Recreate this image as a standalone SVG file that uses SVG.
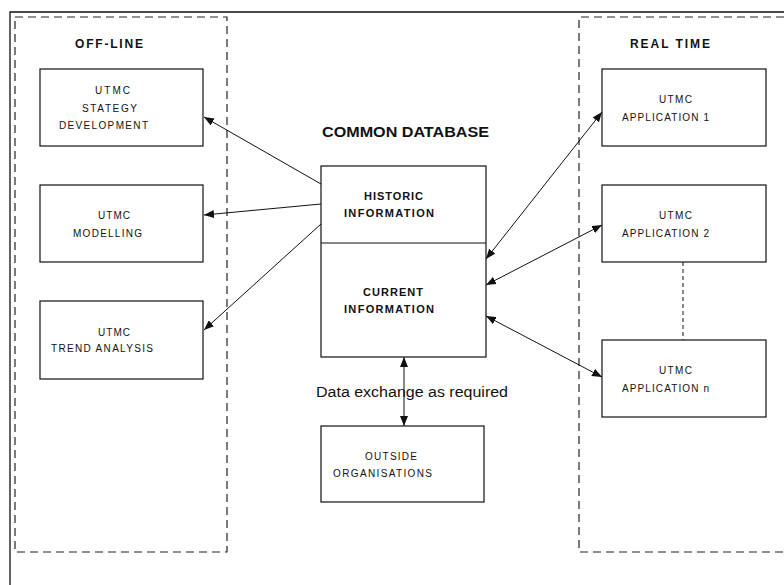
<svg xmlns="http://www.w3.org/2000/svg" width="784" height="585" viewBox="0 0 784 585">
  <style>
    .box { fill: #fff; stroke: #111; stroke-width: 1.2; }
    .zone { fill: none; stroke: #222; stroke-width: 1.2; stroke-dasharray: 8 5; }
    .frame { fill: none; stroke: #111; stroke-width: 1.3; }
    .link { fill: none; stroke: #111; stroke-width: 1; }
    .lbl { font-family: "Liberation Sans Narrow", "Liberation Sans", Arial, sans-serif; font-size: 10px; fill: #111; }
    .hdr { font-family: "Liberation Sans Narrow", "Liberation Sans", Arial, sans-serif; font-size: 12px; font-weight: bold; fill: #111; }
    .db { font-family: "Liberation Sans", Arial, sans-serif; font-size: 14px; font-weight: bold; fill: #111; }
    .note { font-family: "Liberation Sans", Arial, sans-serif; font-size: 14px; fill: #111; }
  </style>
  <defs>
    <marker id="arrow" viewBox="0 0 10 8" refX="10" refY="4" markerWidth="10" markerHeight="8" markerUnits="userSpaceOnUse" orient="auto-start-reverse">
      <path d="M0,0 L10,4 L0,8 Z" fill="#111"/>
    </marker>
  </defs>
  <rect width="784" height="585" fill="#fff"/>

  <!-- outer frame (top and left edges) -->
  <path class="frame" d="M10,585 V12 H784"/>

  <!-- off-line zone -->
  <g id="zone-offline">
    <rect class="zone" x="15" y="17" width="212" height="535"/>
    <text class="hdr" x="75" y="48" textLength="68" lengthAdjust="spacing">OFF-LINE</text>
  </g>

  <!-- real-time zone -->
  <g id="zone-realtime">
    <path class="zone" d="M784,17 H579 V552 H784"/>
    <text class="hdr" x="630" y="48" textLength="80" lengthAdjust="spacing">REAL TIME</text>
  </g>

  <g id="strategy">
    <rect class="box" x="40" y="69" width="163" height="77"/>
    <text class="lbl" x="95" y="94" textLength="35" lengthAdjust="spacing">UTMC</text>
    <text class="lbl" x="82" y="112" textLength="55" lengthAdjust="spacing">STATEGY</text>
    <text class="lbl" x="59" y="129" textLength="89" lengthAdjust="spacing">DEVELOPMENT</text>
  </g>

  <g id="modelling">
    <rect class="box" x="40" y="185" width="163" height="77"/>
    <text class="lbl" x="98" y="219" textLength="32" lengthAdjust="spacing">UTMC</text>
    <text class="lbl" x="73" y="237" textLength="69" lengthAdjust="spacing">MODELLING</text>
  </g>

  <g id="trend">
    <rect class="box" x="40" y="301" width="163" height="78"/>
    <text class="lbl" x="98" y="336" textLength="32" lengthAdjust="spacing">UTMC</text>
    <text class="lbl" x="51" y="352" textLength="102" lengthAdjust="spacing">TREND ANALYSIS</text>
  </g>

  <g id="database">
    <text class="db" x="322" y="137" textLength="167" lengthAdjust="spacingAndGlyphs">COMMON DATABASE</text>
    <rect class="box" x="321" y="166" width="165" height="191"/>
    <line x1="321" y1="243" x2="486" y2="243" stroke="#111" stroke-width="1.2"/>
    <text class="hdr" x="364" y="200" textLength="59" lengthAdjust="spacing" style="font-size:11px">HISTORIC</text>
    <text class="hdr" x="344" y="217" textLength="90" lengthAdjust="spacing" style="font-size:11px">INFORMATION</text>
    <text class="hdr" x="363" y="296" textLength="60" lengthAdjust="spacing" style="font-size:11px">CURRENT</text>
    <text class="hdr" x="344" y="313" textLength="90" lengthAdjust="spacing" style="font-size:11px">INFORMATION</text>
  </g>

  <g id="outside">
    <rect class="box" x="321" y="426" width="163" height="76"/>
    <text class="lbl" x="365" y="460" textLength="52" lengthAdjust="spacing">OUTSIDE</text>
    <text class="lbl" x="333" y="477" textLength="99" lengthAdjust="spacing">ORGANISATIONS</text>
  </g>

  <g id="app1">
    <rect class="box" x="602" y="69" width="164" height="77"/>
    <text class="lbl" x="659" y="103" textLength="33" lengthAdjust="spacing">UTMC</text>
    <text class="lbl" x="622" y="121" textLength="87" lengthAdjust="spacing">APPLICATION 1</text>
  </g>

  <g id="app2">
    <rect class="box" x="602" y="185" width="164" height="77"/>
    <text class="lbl" x="659" y="219" textLength="33" lengthAdjust="spacing">UTMC</text>
    <text class="lbl" x="622" y="237" textLength="87" lengthAdjust="spacing">APPLICATION 2</text>
  </g>

  <g id="appn">
    <rect class="box" x="602" y="340" width="164" height="77"/>
    <text class="lbl" x="659" y="374" textLength="33" lengthAdjust="spacing">UTMC</text>
    <text class="lbl" x="622" y="392" textLength="87" lengthAdjust="spacing">APPLICATION n</text>
  </g>

  <g id="connectors">
    <line class="link" x1="321" y1="184" x2="204" y2="117" marker-end="url(#arrow)"/>
    <line class="link" x1="321" y1="204" x2="204" y2="215" marker-end="url(#arrow)"/>
    <line class="link" x1="321" y1="224" x2="204" y2="330" marker-end="url(#arrow)"/>
    <line class="link" x1="486" y1="259" x2="602" y2="112" marker-start="url(#arrow)" marker-end="url(#arrow)"/>
    <line class="link" x1="486" y1="285" x2="602" y2="225" marker-start="url(#arrow)" marker-end="url(#arrow)"/>
    <line class="link" x1="486" y1="316" x2="602" y2="377" marker-start="url(#arrow)" marker-end="url(#arrow)"/>
    <line class="link" x1="404" y1="357" x2="404" y2="426" marker-start="url(#arrow)" marker-end="url(#arrow)"/>
    <line class="link" x1="683" y1="262" x2="683" y2="340" stroke-dasharray="4 3"/>
    <text class="note" x="316" y="397" textLength="192" lengthAdjust="spacingAndGlyphs">Data exchange as required</text>
  </g>
</svg>
